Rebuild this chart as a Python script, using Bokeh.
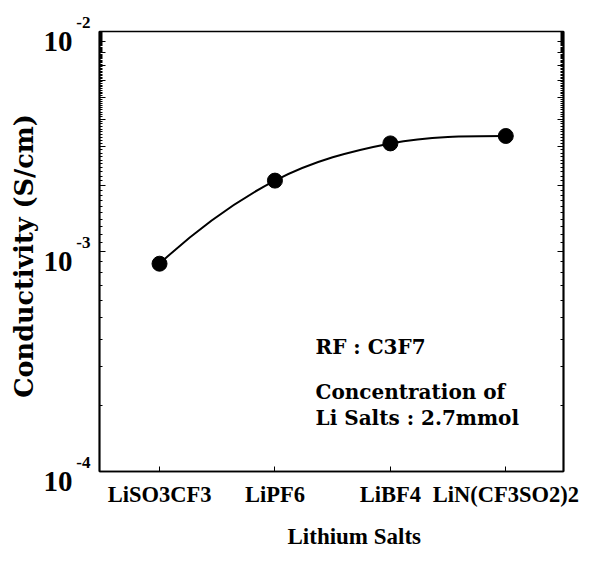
import numpy as np
from bokeh.plotting import figure
from bokeh.models import (LogAxis, FixedTicker, LogTicker, Range1d, Title, Label,
                          CustomJSTickFormatter)
from bokeh.embed import file_html
from bokeh.resources import INLINE

# ---- data ----
salts = ["LiSO3CF3", "LiPF6", "LiBF4", "LiN(CF3SO2)2"]
conductivity = [8.8e-4, 2.1e-3, 3.1e-3, 3.35e-3]   # S/cm
decades = [1e-4, 1e-3, 1e-2]
decade_sup = ["-4", "-3", "-2"]

SERIF_W = "DejaVu Serif"
SERIF_N = "Liberation Serif"

xs = list(range(len(salts)))

p = figure(width=609, height=561, y_axis_type="log",
           x_range=Range1d(-0.52, 3.5), y_range=Range1d(1e-4, 1e-2),
           output_backend="svg", toolbar_location=None,
           min_border_left=99, min_border_right=46,
           min_border_top=31, min_border_bottom=89)
p.background_fill_color = "white"
p.border_fill_color = "white"
p.outline_line_color = "black"
p.outline_line_width = 1.7
p.grid.grid_line_color = None

# x axis
xa = p.xaxis[0]
xa.ticker = FixedTicker(ticks=xs)
xa.major_label_overrides = {i: s for i, s in enumerate(salts)}
xa.major_label_text_font = SERIF_N
xa.major_label_text_font_style = "bold"
xa.major_label_text_font_size = "22.5px"
xa.major_label_text_color = "black"
xa.major_label_standoff = 10
xa.major_tick_in = 5
xa.major_tick_out = 0
xa.minor_tick_line_color = None
xa.axis_line_width = 1.7
xa.axis_line_color = "black"

blank = CustomJSTickFormatter(code="return ''")

# y axis (left): ticks only
ya = p.yaxis[0]
ya.ticker = LogTicker(num_minor_ticks=10)
ya.formatter = blank
ya.major_label_standoff = 0
ya.major_tick_in = 6
ya.major_tick_out = 0
ya.minor_tick_in = 3
ya.minor_tick_out = 0
ya.axis_line_width = 1.7
ya.axis_line_color = "black"

# label axes for "10^n": exponent raised above, base lowered below each tick
sup_fmt = CustomJSTickFormatter(args=dict(dec=decades, lab=decade_sup), code="""
    let best = 0, bd = 1e9;
    for (let i = 0; i < dec.length; i++) {
        const d = Math.abs(Math.log10(tick) - Math.log10(dec[i]));
        if (d < bd) { bd = d; best = i; }
    }
    return lab[best] + '\\n ';
""")
base_fmt = CustomJSTickFormatter(code="return ' \\n10'")


def label_axis(fmt, size, standoff, lh):
    ax = LogAxis(ticker=FixedTicker(ticks=decades), formatter=fmt)
    ax.axis_line_color = None
    ax.major_tick_line_color = None
    ax.minor_tick_line_color = None
    ax.major_tick_in = 0
    ax.major_tick_out = 0
    ax.major_label_standoff = standoff
    ax.major_label_text_font = SERIF_N
    ax.major_label_text_font_style = "bold"
    ax.major_label_text_font_size = size
    ax.major_label_text_line_height = lh
    ax.major_label_text_color = "black"
    return ax


p.add_layout(label_axis(sup_fmt, "17px", 9, 0.95), "left")
p.add_layout(label_axis(base_fmt, "29px", 1, 0.62), "left")

# right axis with inside ticks
ra = LogAxis(ticker=LogTicker(num_minor_ticks=10), formatter=blank)
ra.major_label_standoff = 0
ra.major_tick_in = 6
ra.major_tick_out = 0
ra.minor_tick_in = 3
ra.minor_tick_out = 0
ra.axis_line_width = 1.7
ra.axis_line_color = "black"
p.add_layout(ra, "right")

# smooth monotone Hermite curve in log space, drawn as bezier segments
ly = np.log10(conductivity)
n = len(xs)
dd = np.diff(ly)
m = np.zeros(n)
for i in range(1, n - 1):
    m[i] = (ly[i + 1] - ly[i - 1]) / 2
m[0] = 2 * dd[0] - m[1]
m[-1] = 2 * dd[-1] - m[-2]
if m[0] * dd[0] < 0: m[0] = 0
if m[-1] * dd[-1] < 0: m[-1] = 0
x0 = xs[:-1]; x1 = xs[1:]
y0 = [10 ** v for v in ly[:-1]]; y1 = [10 ** v for v in ly[1:]]
cx0 = [xs[i] + 1 / 3 for i in range(n - 1)]
cx1 = [xs[i + 1] - 1 / 3 for i in range(n - 1)]
cy0 = [10 ** (ly[i] + m[i] / 3) for i in range(n - 1)]
cy1 = [10 ** (ly[i + 1] - m[i + 1] / 3) for i in range(n - 1)]
p.bezier(x0=x0, y0=y0, x1=x1, y1=y1, cx0=cx0, cy0=cy0, cx1=cx1, cy1=cy1,
         line_color="black", line_width=2)

p.scatter(xs, conductivity, size=15, marker="circle",
          fill_color="black", line_color="black")

# axis titles
p.add_layout(Title(text="Conductivity  (S/cm)", align="center", standoff=4,
                   text_font=SERIF_W, text_font_style="bold",
                   text_font_size="25.5px", text_color="black"), "left")
p.add_layout(Title(text="Lithium  Salts", align="left", offset=188, standoff=25,
                   text_font=SERIF_N, text_font_style="bold",
                   text_font_size="23px", text_color="black"), "below")

# annotations
notes = ["RF : C3F7", "Concentration of", "Li Salts : 2.7mmol"]
offs = [-95, -140, -166]
for t, o in zip(notes, offs):
    p.add_layout(Label(x=1.352, y=1e-3, text=t, y_offset=o,
                       text_align="left", text_baseline="alphabetic",
                       text_font=SERIF_W, text_font_style="bold",
                       text_font_size="20px", text_color="black"))

open("out.html", "w").write(file_html(p, INLINE))
